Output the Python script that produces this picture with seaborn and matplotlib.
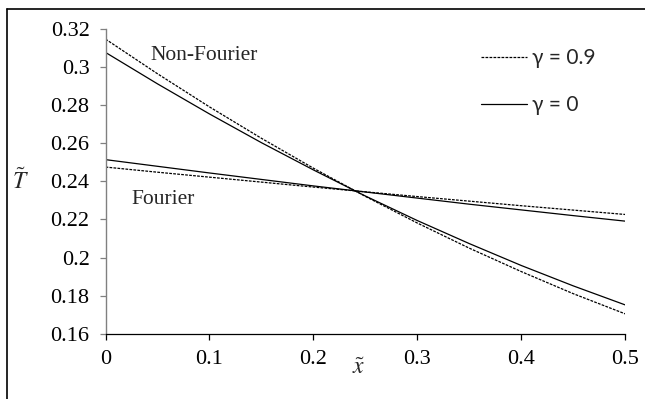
import numpy as np
import pandas as pd
import matplotlib
matplotlib.use('Agg')
import matplotlib.pyplot as plt
from matplotlib.lines import Line2D
import seaborn as sns

x_vals = [0.0, 0.05, 0.1, 0.15, 0.2, 0.25, 0.3, 0.35, 0.4, 0.45, 0.5]

nonfourier_g0 = [0.3077, 0.2912, 0.2754, 0.2603, 0.2460, 0.2323, 0.2194, 0.2073, 0.1958, 0.1851, 0.1751]
nonfourier_g09 = [0.3147, 0.2965, 0.2791, 0.2626, 0.2469, 0.2321, 0.2181, 0.2049, 0.1926, 0.1810, 0.1704]
fourier_g0 = [0.2514, 0.2479, 0.2444, 0.2410, 0.2376, 0.2344, 0.2312, 0.2280, 0.2250, 0.2220, 0.2191]
fourier_g09 = [0.2475, 0.2448, 0.2422, 0.2396, 0.2370, 0.2345, 0.2320, 0.2296, 0.2272, 0.2249, 0.2226]

x_ticks = [0, 0.1, 0.2, 0.3, 0.4, 0.5]
x_ticklabels = ['0', '0.1', '0.2', '0.3', '0.4', '0.5']
y_ticks = [0.16, 0.18, 0.2, 0.22, 0.24, 0.26, 0.28, 0.3, 0.32]
y_ticklabels = ['0.16', '0.18', '0.2', '0.22', '0.24', '0.26', '0.28', '0.3', '0.32']

rows = []
for model, gamma, vals in [('Non-Fourier', '0', nonfourier_g0),
                           ('Non-Fourier', '0.9', nonfourier_g09),
                           ('Fourier', '0', fourier_g0),
                           ('Fourier', '0.9', fourier_g09)]:
    for xv, yv in zip(x_vals, vals):
        rows.append({'x': xv, 'T': yv, 'model': model, 'gamma': gamma})
df = pd.DataFrame(rows)

sns.set_style('ticks')
plt.rcParams['font.family'] = ['Liberation Serif', 'DejaVu Serif']
plt.rcParams['mathtext.fontset'] = 'stix'

fig = plt.figure(figsize=(6.45, 3.99), dpi=100)
ax = fig.add_axes([0.1636, 0.1637, 0.8058, 0.7636])

dashes = {'0': '', '0.9': (2.2, 1.0)}
sns.lineplot(data=df, x='x', y='T', style='gamma', units='model', estimator=None,
             dashes=dashes, color='black', linewidth=0.9, legend=False, ax=ax)

ax.set_xlim(0, 0.5)
ax.set_ylim(0.16, 0.32)
ax.set_xticks(x_ticks)
ax.set_xticklabels(x_ticklabels)
ax.set_yticks(y_ticks)
ax.set_yticklabels(y_ticklabels)
ax.tick_params(axis='both', direction='out', length=4.5, width=0.9, labelsize=16, colors='black')
ax.tick_params(axis='y', color='#808080', pad=7)
ax.tick_params(axis='x', pad=7)
ax.set_xlabel('')
ax.set_ylabel('')
sns.despine(ax=ax)
ax.spines['left'].set_color('#808080')
ax.spines['left'].set_linewidth(1.0)
ax.spines['bottom'].set_color('black')
ax.spines['bottom'].set_linewidth(0.9)

ax.text(0.0428, 0.3063, 'Non-Fourier', fontsize=15.5, va='center', ha='left')
ax.text(0.0245, 0.2305, 'Fourier', fontsize=15.5, va='center', ha='left')

fig.text(20 / 645, 1 - 181 / 399, r'$\tilde{T}$', fontsize=17, ha='center', va='center')
fig.text(359 / 645, 1 - 369 / 399, r'$\tilde{x}$', fontsize=17, ha='center', va='center')

handles = [Line2D([], [], color='black', lw=0.9, dashes=(2.2, 1.0)),
           Line2D([], [], color='black', lw=0.9)]
leg = ax.legend(handles, ['γ = 0.9', 'γ = 0'], loc='upper left',
                bbox_to_anchor=(481 / 645, 1 - 48 / 399), bbox_transform=fig.transFigure,
                frameon=False, borderpad=0, borderaxespad=0, handlelength=2.2,
                handletextpad=0.25, labelspacing=1.3,
                prop={'family': ['Lato', 'DejaVu Sans'], 'size': 15})

# frame of the original figure (only left and top edges visible)
fig.add_artist(Line2D([7 / 645, 7 / 645], [0, 1 - 9 / 399], color='black', lw=1.2,
                      transform=fig.transFigure))
fig.add_artist(Line2D([7 / 645, 1], [1 - 9 / 399, 1 - 9 / 399], color='black', lw=1.2,
                      transform=fig.transFigure))

fig.savefig('out.png', dpi=100)
